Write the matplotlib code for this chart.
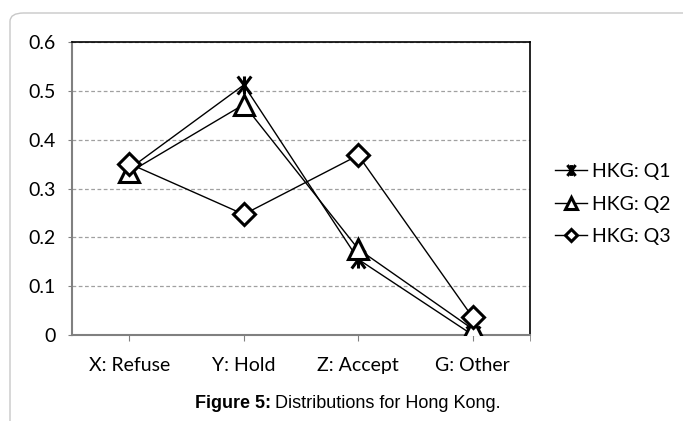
import matplotlib
matplotlib.use("Agg")
import matplotlib.pyplot as plt
from matplotlib.path import Path
from matplotlib.patches import FancyBboxPatch
import numpy as np

categories = ["X: Refuse", "Y: Hold", "Z: Accept", "G: Other"]
q1 = [0.34, 0.512, 0.155, 0.0]
q2 = [0.333, 0.472, 0.176, 0.012]
q3 = [0.351, 0.247, 0.368, 0.036]
series_names = ["HKG: Q1", "HKG: Q2", "HKG: Q3"]
yticks = [0, 0.1, 0.2, 0.3, 0.4, 0.5, 0.6]
ytick_labels = ["0", "0.1", "0.2", "0.3", "0.4", "0.5", "0.6"]

star = Path([(-0.75, -1), (0.75, 1), (-0.75, 1), (0.75, -1), (0, -1), (0, 1)],
            [Path.MOVETO, Path.LINETO, Path.MOVETO, Path.LINETO, Path.MOVETO, Path.LINETO])

fig = plt.figure(figsize=(6.83, 4.21), dpi=100)
W, H = 683, 421
ax = fig.add_axes([72 / W, 1 - 335 / H, (530 - 72) / W, (335 - 42) / H])

# figure frame
frame = FancyBboxPatch((10 / W, -0.1), 1.1, 1 - 13 / H + 0.1,
                       boxstyle="round,pad=0,rounding_size=0.02",
                       transform=fig.transFigure, facecolor="none",
                       edgecolor="#c8c8c8", linewidth=1.0, zorder=0)
fig.patches.append(frame)

x = np.arange(1, len(categories) + 1)
font = "Lato"
ax.plot(x, q1, color="black", lw=1.0, marker=star, markersize=13,
        markeredgewidth=2.2, markerfacecolor="none", markeredgecolor="black",
        label=series_names[0], zorder=3)
ax.plot(x, q2, color="black", lw=1.0, marker="^", markersize=15,
        markeredgewidth=2.2, markerfacecolor="white", markeredgecolor="black",
        label=series_names[1], zorder=4)
ax.plot(x, q3, color="black", lw=1.0, marker="D", markersize=11,
        markeredgewidth=2.2, markerfacecolor="white", markeredgecolor="black",
        label=series_names[2], zorder=5)

ax.set_xlim(0.5, 4.5)
ax.set_ylim(0, 0.6)
ax.set_yticks(yticks)
ax.set_yticklabels(ytick_labels, fontsize=14, family=font)
ax.set_xticks(x)
ax.set_xticklabels(categories, fontsize=14, family=font)
ax.set_xticks([4.5], minor=True)
ax.tick_params(axis="x", which="both", direction="out", length=4.5, color="#808080",
               pad=11)
ax.tick_params(axis="y", direction="out", length=3, color="#808080", pad=9)
ax.yaxis.grid(True, color="#a0a0a0", linestyle=(0, (3, 2)), linewidth=0.9)
ax.set_axisbelow(True)
for s in ["left", "bottom"]:
    ax.spines[s].set_color("#808080")
    ax.spines[s].set_linewidth(1.5)
for s in ["top", "right"]:
    ax.spines[s].set_color("black")
    ax.spines[s].set_linewidth(1.2)

leg = fig.legend(loc="center left", bbox_to_anchor=(555 / W, 1 - 204 / H),
                 frameon=False, prop={"family": font, "size": 14},
                 handlelength=1.65, handletextpad=0.25, labelspacing=0.8,
                 markerscale=0.6, borderpad=0, borderaxespad=0)

fig.text(271 / W, 1 - 403 / H, "Figure 5:", ha="right", va="center",
         fontsize=13, family="Liberation Sans", fontweight="bold")
fig.text(275 / W, 1 - 403 / H, "Distributions for Hong Kong.", ha="left", va="center",
         fontsize=13, family="Liberation Sans")

fig.savefig("out.png", dpi=100)
